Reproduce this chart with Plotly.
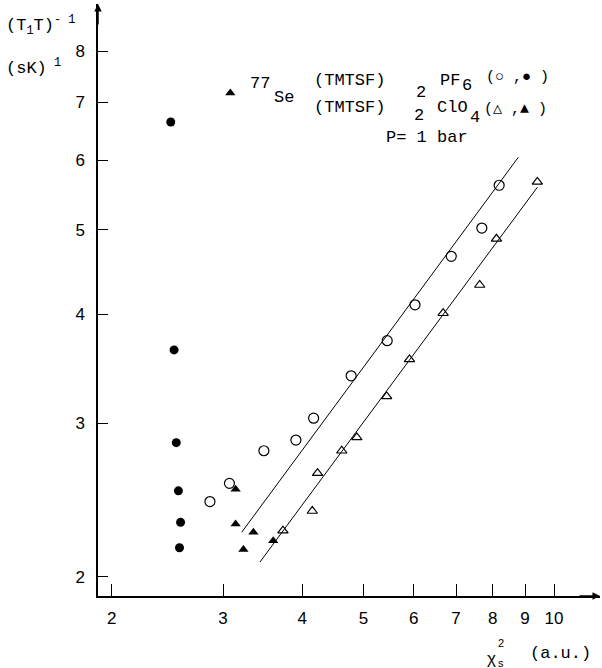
import plotly.graph_objects as go

# ---- data ----
pf6_open_x = [2.86, 3.07, 3.48, 3.91, 4.17, 4.78, 5.45, 6.03, 6.88, 7.69, 8.19]
pf6_open_y = [2.44, 2.56, 2.79, 2.87, 3.04, 3.40, 3.73, 4.10, 4.66, 5.02, 5.62]
pf6_filled_x = [2.48, 2.51, 2.53, 2.55, 2.57, 2.56]
pf6_filled_y = [6.64, 3.64, 2.85, 2.51, 2.31, 2.16]

clo4_open_x = [3.73, 4.15, 4.23, 4.62, 4.88, 5.44, 5.91, 6.68, 7.63, 8.11, 9.41]
clo4_open_y = [2.26, 2.38, 2.63, 2.79, 2.89, 3.22, 3.55, 4.01, 4.32, 4.88, 5.67]
clo4_filled_x = [3.08, 3.14, 3.14, 3.23, 3.35, 3.60]
clo4_filled_y = [7.17, 2.52, 2.30, 2.15, 2.25, 2.20]

fit_pf6_x = [3.21, 8.78]
fit_pf6_y = [2.25, 6.05]
fit_clo4_x = [3.43, 9.41]
fit_clo4_y = [2.08, 5.59]

x_ticks = [2, 3, 4, 5, 6, 7, 8, 9, 10]
x_tick_labels = ["2", "3", "4", "5", "6", "7", "8", "9", "10"]
y_ticks = [2, 3, 4, 5, 6, 7, 8]
y_tick_labels = ["2", "3", "4", "5", "6", "7", "8"]

# ---- figure ----
W, H = 602, 668
ML, MR, MT, MB = 98, 2, 4, 72
MONO = "Liberation Mono, Courier New, monospace"
SANS = "Liberation Sans, Arial, sans-serif"

fig = go.Figure()
line_style = dict(color="black", width=1)
fig.add_trace(go.Scatter(x=fit_pf6_x, y=fit_pf6_y, mode="lines", line=line_style))
fig.add_trace(go.Scatter(x=fit_clo4_x, y=fit_clo4_y, mode="lines", line=line_style))
fig.add_trace(go.Scatter(x=pf6_open_x, y=pf6_open_y, mode="markers",
                         marker=dict(symbol="circle-open", size=10, color="black", line=dict(width=1.2))))
fig.add_trace(go.Scatter(x=pf6_filled_x, y=pf6_filled_y, mode="markers",
                         marker=dict(symbol="circle", size=9, color="black")))
fig.add_trace(go.Scatter(x=clo4_open_x, y=clo4_open_y, mode="markers",
                         marker=dict(symbol="triangle-up-open", size=9, color="black", line=dict(width=1.2))))
fig.add_trace(go.Scatter(x=clo4_filled_x, y=clo4_filled_y, mode="markers",
                         marker=dict(symbol="triangle-up", size=9, color="black")))


def px(xp):
    return (xp - ML) / (W - ML - MR)


def py(yp):
    return (H - MB - yp) / (H - MB - MT)


def txt(t, x, y, size=17, font=MONO, xanchor="center"):
    return dict(text=t, x=px(x), y=py(y), xref="paper", yref="paper", showarrow=False,
                xanchor=xanchor, yanchor="middle", font=dict(family=font, size=size, color="black"))


annotations = [
    txt("(T<sub>1</sub>T)<sup>- 1</sup>", 4, 25, xanchor="left"),
    txt("(sK)<sup> 1</sup>", 4, 67, xanchor="left"),
    txt("77", 248, 84, xanchor="left"),
    txt("Se", 272, 97, xanchor="left"),
    txt("(TMTSF)", 349, 80),
    txt("2", 421, 92),
    txt("PF", 450, 80),
    txt("6", 467, 86),
    txt("(○ ,● )", 517, 77, size=15),
    txt("(TMTSF)", 349, 108),
    txt("2", 419, 116),
    txt("ClO", 452, 108),
    txt("4", 475, 117),
    txt("(△ ,▲ )", 515, 109, size=15),
    txt("P= 1 bar", 427, 138),
    txt("χ", 491, 658, font=SANS, size=17),
    txt("2", 501, 643, font=SANS, size=11),
    txt("s", 501, 663, font=SANS, size=11),
    txt("(a.u.)", 560, 653),
    # axis arrows
    dict(x=0, y=1, xref="paper", yref="paper", ax=0, ay=22, text="", showarrow=True,
         arrowhead=2, arrowsize=1, arrowwidth=1.5, arrowcolor="black"),
    dict(x=1, y=0, xref="paper", yref="paper", ax=-22, ay=0, text="", showarrow=True,
         arrowhead=2, arrowsize=1, arrowwidth=1.5, arrowcolor="black"),
]

fig.update_layout(
    width=W, height=H,
    margin=dict(l=ML, r=MR, t=MT, b=MB),
    paper_bgcolor="white", plot_bgcolor="white",
    showlegend=False,
    annotations=annotations,
    xaxis=dict(type="log", range=[0.2795, 1.0726], showgrid=False, zeroline=False,
               showline=True, linecolor="black", linewidth=1.5,
               ticks="inside", ticklen=12, tickwidth=1.2, tickcolor="black",
               tickvals=x_ticks, ticktext=x_tick_labels, ticklabelstandoff=6,
               tickfont=dict(family=SANS, size=17, color="black")),
    yaxis=dict(type="log", range=[0.2792, 0.9574], showgrid=False, zeroline=False,
               showline=True, linecolor="black", linewidth=1.5,
               ticks="inside", ticklen=10, tickwidth=1.2, tickcolor="black",
               tickvals=y_ticks, ticktext=y_tick_labels, ticklabelstandoff=8,
               tickfont=dict(family=SANS, size=17, color="black")),
)

fig.write_html("out.html")
